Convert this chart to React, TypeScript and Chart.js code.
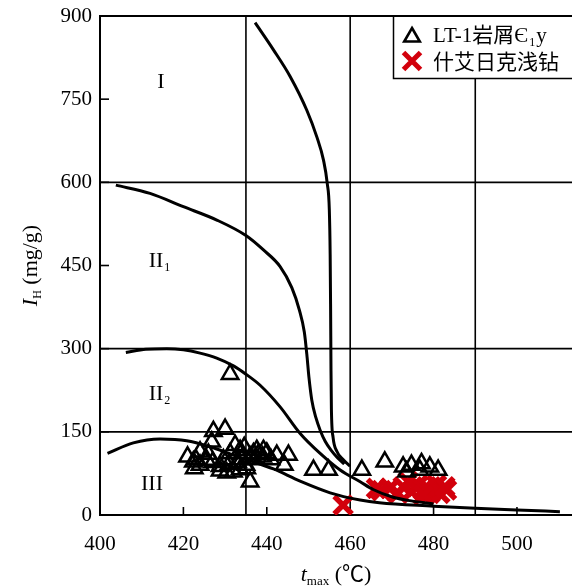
import React, { useEffect, useRef } from "react";
import { Chart, registerables } from "chart.js";

Chart.register(...registerables);

// ---- axis / grid values ----
const xTickValues = [400, 420, 440, 460, 480, 500];
const yTickValues = [0, 150, 300, 450, 600, 750, 900];
const xGridLines = [435, 460, 490];
const yGridLines = [150, 300, 600];

// ---- boundary curves [tmax, IH] ----
const curveI_II1: [number, number][] = [
  [437.2, 888], [441.6, 839], [445.6, 791], [449.6, 730], [452.0, 682], [453.6, 640],
  [454.5, 598], [455.0, 550], [455.2, 470], [455.3, 380], [455.4, 260], [455.5, 190],
  [455.9, 140], [456.8, 115], [458.3, 100], [460.0, 88],
];
const curveII1_II2: [number, number][] = [
  [403.8, 595], [412, 580], [420, 556], [428, 532], [435, 504], [439.2, 478], [443.2, 448],
  [446.0, 410], [447.8, 370], [449.0, 330], [449.6, 290], [450.1, 249], [450.8, 207],
  [451.8, 175], [452.8, 153], [454.0, 133], [455.4, 117], [457.0, 103], [458.6, 92],
];
const curveII2_III: [number, number][] = [
  [406.2, 293], [411, 299], [416, 300], [420, 298], [424, 292], [428, 283], [432, 269],
  [435, 254], [438.4, 234], [443.2, 195], [448, 147], [452.8, 111], [457.6, 81],
  [462.4, 60], [465.5, 46], [470.3, 32], [475, 25], [480, 20],
];
const curveIII: [number, number][] = [
  [401.8, 111], [408, 130], [414.4, 137], [420.8, 134], [426.4, 123], [432, 108],
  [436, 98], [441.6, 83], [448, 61], [455.2, 40], [462.4, 27], [467, 22], [480, 16],
  [490, 12], [500, 9], [510.3, 6],
];

// ---- samples [tmax, IH] ----
const lt1Cuttings: [number, number][] = [
  [431.2, 254], [427.2, 151], [430, 155], [426.8, 132], [424, 114], [422.4, 96],
  [422.6, 84], [425.6, 99], [428.8, 88], [429.6, 100], [431.2, 111], [432.4, 126],
  [433.6, 117], [434.6, 122], [436, 60], [436.8, 111], [437.6, 117], [439.2, 117],
  [442.4, 108], [445.2, 108], [444.2, 90], [428.8, 80], [432, 78], [433.6, 82],
  [435.2, 84], [430.4, 76], [434, 100], [436, 105], [438, 110], [440, 112], [426, 110],
  [424, 90], [427, 95], [431, 92], [433, 95], [435, 90], [437, 100], [439, 105],
  [441, 100], [421, 105], [423, 100], [451.2, 81], [454.8, 81], [462.8, 81],
  [468.3, 96], [472.7, 87], [474.7, 90], [477.1, 93], [479.1, 87], [481.1, 81],
  [473.5, 78], [476.7, 81],
];
const shiairikeWell: [number, number][] = [
  [458.3, 18], [466.3, 48], [469.5, 48], [472.7, 51], [474.7, 42], [476.3, 54],
  [477.5, 45], [479.1, 39], [480.7, 54], [483.1, 45], [473.9, 60], [481.5, 39],
  [471.5, 39], [478.3, 51], [482.7, 51], [477.5, 36], [467.5, 44],
];

const regionLabels = [
  { text: "I", sub: "", x: 161, y: 88 },
  { text: "II", sub: "1", x: 156, y: 267 },
  { text: "II", sub: "2", x: 156, y: 400 },
  { text: "III", sub: "", x: 152, y: 490 },
];

const legendLabels = ["LT-1岩屑Є", "什艾日克浅钻"];

const SERIF = "'Liberation Serif', 'Times New Roman', 'Noto Sans CJK SC', serif";
const CJK = "'Noto Sans CJK SC', 'Liberation Serif', serif";
const RED = "#d2000c";

const toPts = (arr: [number, number][]) => arr.map(([x, y]) => ({ x, y }));

const curveDataset = (arr: [number, number][]) => ({
  type: "line" as const,
  data: toPts(arr),
  borderColor: "#000",
  borderWidth: 3,
  pointRadius: 0,
  cubicInterpolationMode: "monotone" as const,
  fill: false,
  showLine: true,
});

const overlayPlugin = {
  id: "overlay",
  beforeDatasetsDraw(chart: any) {
    const { ctx, chartArea: a, scales } = chart;
    const xs = scales.x;
    const ys = scales.y;
    const line = (x1: number, y1: number, x2: number, y2: number) => {
      ctx.beginPath();
      ctx.moveTo(x1, y1);
      ctx.lineTo(x2, y2);
      ctx.stroke();
    };
    ctx.save();
    ctx.strokeStyle = "#000";
    ctx.lineWidth = 1.6;
    xGridLines.forEach((v) => {
      const px = xs.getPixelForValue(v);
      line(px, a.top, px, a.bottom);
    });
    yGridLines.forEach((v) => {
      const py = ys.getPixelForValue(v);
      line(a.left, py, a.right, py);
    });
    xTickValues.forEach((v) => {
      const px = xs.getPixelForValue(v);
      line(px, a.bottom, px, a.bottom - 8);
    });
    yTickValues.forEach((v) => {
      const py = ys.getPixelForValue(v);
      line(a.left, py, a.left + 9, py);
    });
    ctx.lineWidth = 2;
    line(a.left - 1, a.top, a.right, a.top);
    ctx.restore();
  },
  afterDraw(chart: any) {
    const { ctx, chartArea: a } = chart;
    ctx.save();
    ctx.fillStyle = "#000";
    ctx.textBaseline = "alphabetic";

    // region labels
    regionLabels.forEach((r) => {
      ctx.font = `22px ${SERIF}`;
      ctx.textAlign = "center";
      ctx.fillText(r.text, r.x, r.y);
      if (r.sub) {
        const w = ctx.measureText(r.text).width;
        ctx.font = `12px ${SERIF}`;
        ctx.textAlign = "left";
        ctx.fillText(r.sub, r.x + w / 2 + 1, r.y + 4);
      }
    });

    // x axis title: t_max (℃)
    {
      ctx.textAlign = "left";
      const parts = [
        { t: "t", f: `italic 22px ${SERIF}`, dy: 0 },
        { t: "max", f: `13px ${SERIF}`, dy: 4 },
        { t: " (℃)", f: `22px ${SERIF}`, dy: 0 },
      ];
      let total = 0;
      parts.forEach((p) => {
        ctx.font = p.f;
        total += ctx.measureText(p.t).width;
      });
      let x = (a.left + a.right) / 2 - total / 2;
      const base = 581;
      parts.forEach((p) => {
        ctx.font = p.f;
        ctx.fillText(p.t, x, base + p.dy);
        x += ctx.measureText(p.t).width;
      });
    }

    // y axis title: I_H (mg/g)
    {
      ctx.save();
      ctx.translate(37, (a.top + a.bottom) / 2);
      ctx.rotate(-Math.PI / 2);
      ctx.textAlign = "left";
      const parts = [
        { t: "I", f: `italic 22px ${SERIF}`, dy: 0 },
        { t: "H", f: `12px ${SERIF}`, dy: 4 },
        { t: " (mg/g)", f: `22px ${SERIF}`, dy: 0 },
      ];
      let total = 0;
      parts.forEach((p) => {
        ctx.font = p.f;
        total += ctx.measureText(p.t).width;
      });
      let x = -total / 2;
      parts.forEach((p) => {
        ctx.font = p.f;
        ctx.fillText(p.t, x, p.dy);
        x += ctx.measureText(p.t).width;
      });
      ctx.restore();
    }

    // legend box
    const lx = 393.5;
    const ly = a.top;
    const lb = 78.5;
    ctx.fillStyle = "#fff";
    ctx.fillRect(lx, ly + 1, a.right - lx, lb - ly - 1);
    ctx.strokeStyle = "#000";
    ctx.lineWidth = 1.5;
    ctx.beginPath();
    ctx.moveTo(lx, ly);
    ctx.lineTo(lx, lb);
    ctx.lineTo(a.right, lb);
    ctx.stroke();

    // legend markers
    const tx = 412;
    const ty = 37;
    const r = 9;
    ctx.lineWidth = 2.6;
    ctx.beginPath();
    ctx.moveTo(tx, ty - r);
    ctx.lineTo(tx + r * 0.866, ty + r * 0.5);
    ctx.lineTo(tx - r * 0.866, ty + r * 0.5);
    ctx.closePath();
    ctx.stroke();

    const cx = 412;
    const cy = 61;
    const h = 8.5;
    ctx.strokeStyle = RED;
    ctx.lineWidth = 5;
    ctx.beginPath();
    ctx.moveTo(cx - h, cy - h);
    ctx.lineTo(cx + h, cy + h);
    ctx.moveTo(cx + h, cy - h);
    ctx.lineTo(cx - h, cy + h);
    ctx.stroke();

    // legend texts
    ctx.fillStyle = "#000";
    ctx.textAlign = "left";
    ctx.font = `21px ${SERIF}`;
    let x1 = 433;
    ctx.fillText(legendLabels[0], x1, 42);
    x1 += ctx.measureText(legendLabels[0]).width;
    ctx.font = `12px ${SERIF}`;
    ctx.fillText("1", x1 + 1, 46);
    x1 += ctx.measureText("1").width + 2;
    ctx.font = `21px ${SERIF}`;
    ctx.fillText("y", x1, 42);

    ctx.font = `21px ${CJK}`;
    ctx.fillText(legendLabels[1], 433, 69);

    ctx.restore();
  },
};

export default function App() {
  const canvasRef = useRef<HTMLCanvasElement | null>(null);

  useEffect(() => {
    if (!canvasRef.current) return;
    const chart = new Chart(canvasRef.current, {
      type: "scatter",
      data: {
        datasets: [
          curveDataset(curveI_II1),
          curveDataset(curveII1_II2),
          curveDataset(curveII2_III),
          curveDataset(curveIII),
          {
            type: "scatter",
            label: "LT-1岩屑Є1y",
            data: toPts(lt1Cuttings),
            pointStyle: "triangle",
            radius: 9.5,
            borderWidth: 2.5,
            borderColor: "#000",
            backgroundColor: "rgba(0,0,0,0)",
          } as any,
          {
            type: "scatter",
            label: "什艾日克浅钻",
            data: toPts(shiairikeWell),
            pointStyle: "crossRot",
            radius: 12.5,
            borderWidth: 5.5,
            borderColor: RED,
            backgroundColor: RED,
          } as any,
        ],
      },
      options: {
        animation: false,
        responsive: false,
        devicePixelRatio: 1,
        layout: { autoPadding: false, padding: { top: 16, right: 0, left: 0, bottom: 0 } },
        plugins: { legend: { display: false }, tooltip: { enabled: false } },
        events: [],
        scales: {
          x: {
            type: "linear",
            min: 400,
            max: 513.2,
            grid: { display: false, drawTicks: false },
            border: { display: true, color: "#000", width: 2 },
            afterBuildTicks: (s: any) => {
              s.ticks = xTickValues.map((v) => ({ value: v }));
            },
            afterFit: (s: any) => {
              s.height = 72;
              s.paddingLeft = 0;
              s.paddingRight = 0;
            },
            ticks: {
              autoSkip: false,
              maxRotation: 0,
              padding: 17,
              color: "#000",
              font: { family: SERIF, size: 21 },
            },
          },
          y: {
            type: "linear",
            min: 0,
            max: 900,
            grid: { display: false, drawTicks: false },
            border: { display: true, color: "#000", width: 2 },
            afterBuildTicks: (s: any) => {
              s.ticks = yTickValues.map((v) => ({ value: v }));
            },
            afterFit: (s: any) => {
              s.width = 100;
              s.paddingTop = 0;
              s.paddingBottom = 0;
            },
            ticks: {
              autoSkip: false,
              padding: 8,
              color: "#000",
              font: { family: SERIF, size: 21 },
            },
          },
        },
      } as any,
      plugins: [overlayPlugin],
    });
    return () => chart.destroy();
  }, []);

  return (
    <div style={{ position: "absolute", left: 0, top: 0, width: 572, height: 587, background: "#fff", overflow: "hidden" }}>
      <canvas ref={canvasRef} width={572} height={587} style={{ width: 572, height: 587, display: "block" }} />
    </div>
  );
}
